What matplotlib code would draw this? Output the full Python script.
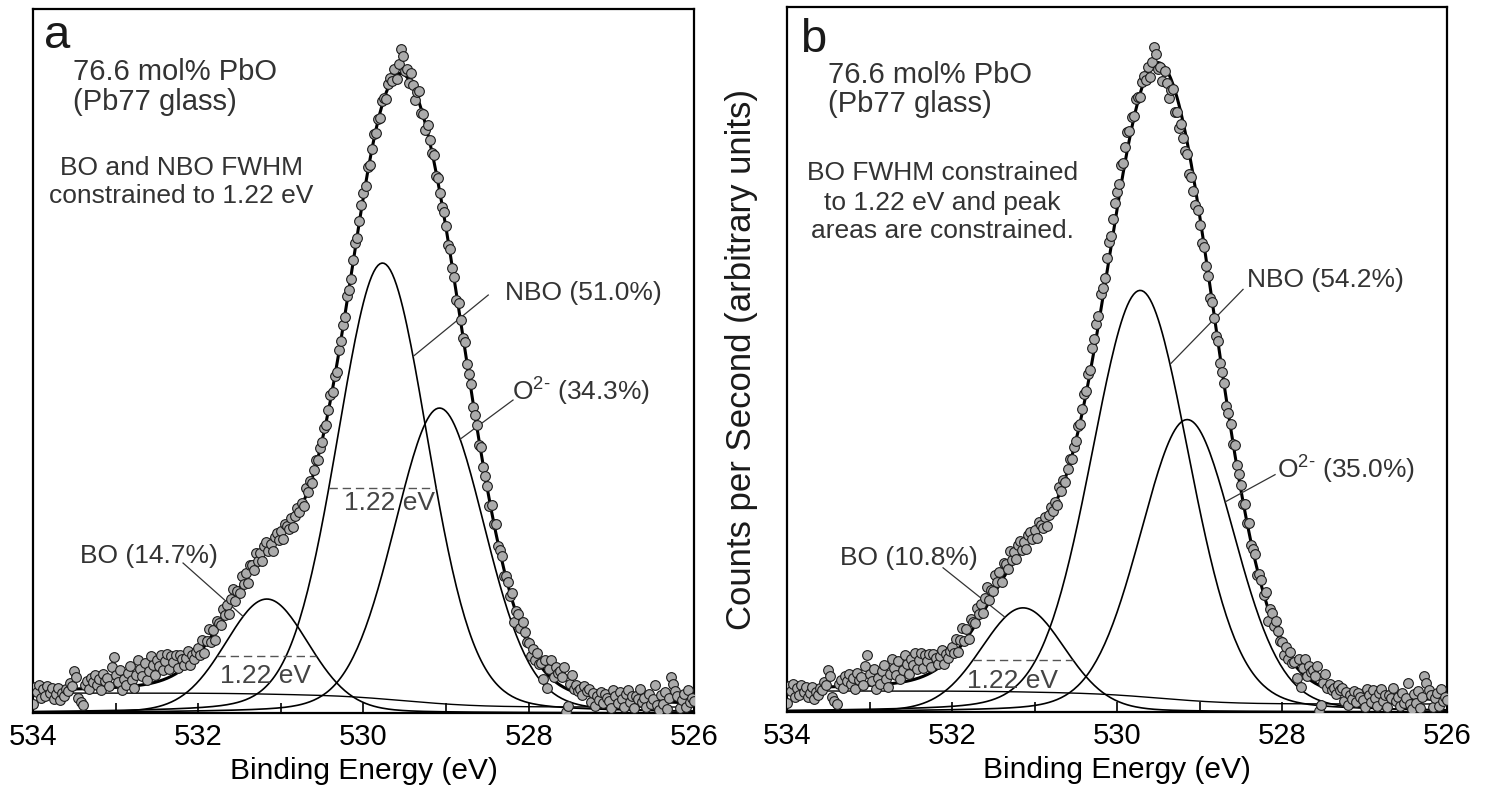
import numpy as np
import matplotlib.pyplot as plt

plt.rcParams['font.family'] = ['Liberation Sans', 'DejaVu Sans']
plt.rcParams['mathtext.fontset'] = 'custom'
plt.rcParams['mathtext.rm'] = 'Liberation Sans'

# O 1s scan, binding energy (eV), 0.025 eV steps from 534 down to 526
energy = np.linspace(534.0, 526.0, 321)

counts_minus_fit = [
    -14, 3, -2, 5, -8, 1, -6, 4, -3, 2, -9, -5, 1, -11, -4, -7, 0, -2, 6, 3,
    18, 12, -9, -13, -16, 4, 8, 0, 11, 6, 13, 3, 9, -2, 14, 7, 10, 2, 21, 31,
    12, 5, 17, -3, 8, 2, 14, 20, 6, -2, 11, 25, 16, 9, 22, 4, 13, 27, 18, 7,
    22, 15, 26, 10, 18, 24, 8, 20, 13, 19, 5, 16, 11, 3, 9, 14, -2, 6, 0, 4,
    6, -3, 9, -7, 2, 11, -5, 4, -9, 7, 1, -4, 8, -2, 5, -8, 3, 10, -6, 0,
    -5, 8, -3, 4, -9, 6, 2, -6, 9, -2, 3, -7, 5, 7, -4, 1, -8, 4, 6, -3,
    4, -6, 7, 2, -3, 5, -7, 1, 6, -2, 3, -5, 8, -1, 4, -4, 2, 5, -3, 1,
    -2, 3, -4, 1, 5, -3, 2, -6, 4, 0, 3, -2, 6, -1, -4, 2, 5, -3, 1, 4,
    3, -2, 5, -4, 1, 6, -3, 2, -5, 4, 0, -6, 3, 5, -2, 8, -4, 10, 24, 18,
    4, 8, -3, 10, 2, -8, 5, 12, -4, 3, -6, 7, 1, -2, 5, -5, 3, 0, -3, 4,
    2, -4, 5, -1, 3, -6, 4, 1, -3, 6, -2, 2, 5, -5, 1, 3, -4, 7, -1, 2,
    3, -5, 6, -2, 8, -4, 1, 5, -7, 2, 4, -3, 7, -15, 3, 6, -2, 9, 4, -1,
    2, -6, 5, -3, 8, 0, 4, -10, 12, -14, 7, 18, 3, 15, 10, 14, 9, 20, -24, -17,
    6, 16, 3, 8, 2, 5, -1, 9, 4, 7, -6, 3, -9, 1, -3, 6, -5, 4, 0, -2,
    -9, 9, 3, -4, 8, 1, -7, 6, 10, -2, 4, -8, 5, 2, 12, -1, 3, -6, 7, -3,
    2, 17, -3, -8, 7, -2, 10, -7, 4, 25, 18, 11, 6, -6, 3, 9, -4, 13, 1, 5,
    2,
]

# fitted components, order: BO, NBO, O2-
centre_a = [531.17, 529.77, 529.08]
height_a = [114, 450, 305]
fwhm_a = [1.20, 1.30, 1.30]
shirley_a = [20, 6]      # background level at 534 eV and at 526 eV
labels_a = ['BO (14.7%)', 'NBO (51.0%)', r'O$^{2\text{-}}$ (34.3%)']

centre_b = [531.14, 529.72, 529.15]
height_b = [104, 421, 292]
fwhm_b = [1.21, 1.40, 1.35]
shirley_b = [21, 8]
labels_b = ['BO (10.8%)', 'NBO (54.2%)', r'O$^{2\text{-}}$ (35.0%)']

lorentz_frac = 0.15


def gl(x, c, h, w):
    u = 4 * ((x - c) / w) ** 2
    return h * ((1 - lorentz_frac) * np.exp(-np.log(2) * u) + lorentz_frac / (1 + u))


def fit_curves(centre, height, fwhm, shirley):
    comps = [gl(energy, c, h, w) for c, h, w in zip(centre, height, fwhm)]
    total = np.sum(comps, axis=0)
    cum = np.cumsum(total[::-1])[::-1]
    bg = shirley[1] + (shirley[0] - shirley[1]) * cum / cum[0]
    return comps, bg, total + bg


comps_a, bg_a, env_a = fit_curves(centre_a, height_a, fwhm_a, shirley_a)
comps_b, bg_b, env_b = fit_curves(centre_b, height_b, fwhm_b, shirley_b)
counts = env_a + np.array(counts_minus_fit)

fig = plt.figure(figsize=(14.94, 7.92), dpi=100)
ax_a = fig.add_axes([0.0221, 0.0997, 0.4424, 0.8889])
ax_b = fig.add_axes([0.5268, 0.1010, 0.4418, 0.8902])

txt = '#333333'


def draw_panel(ax, comps, bg, env, centre, height, fwhm, dashed):
    for comp in comps:
        ax.plot(energy, comp, color='k', lw=1.2)
    ax.plot(energy, bg, color='k', lw=1.0)
    ax.plot(energy, env, color='k', lw=2.2)
    ax.plot(energy, counts, 'o', ms=7, mfc='#ababab', mec='#1a1a1a', mew=0.8, zorder=3)
    for i in dashed:
        c, h, w = centre[i], height[i], fwhm[i]
        ax.plot([c + w / 2, c - w / 2], [h / 2, h / 2], color='#555555', lw=1.0,
                dashes=(6, 3.5))
    ax.set_xlim(534, 526)
    ax.set_ylim(0, 704)
    ticks = np.arange(526, 535)
    ax.set_xticks(ticks)
    ax.set_xticklabels([str(t) if t % 2 == 0 else '' for t in ticks])
    ax.tick_params(axis='x', direction='in', length=7, width=1.2, labelsize=21, pad=7)
    ax.set_yticks([])
    for s in ax.spines.values():
        s.set_linewidth(1.6)
    ax.set_xlabel('Binding Energy (eV)', fontsize=21.5)
    ax.xaxis.set_label_coords(0.5, -0.062)


def leader(ax, start, comp_centre, comp_h, comp_w, e_end):
    ax.plot([start[0], e_end], [start[1], gl(e_end, comp_centre, comp_h, comp_w)],
            color='#333333', lw=0.9)


draw_panel(ax_a, comps_a, bg_a, env_a, centre_a, height_a, fwhm_a, [0, 1])
draw_panel(ax_b, comps_b, bg_b, env_b, centre_b, height_b, fwhm_b, [0])

# panel a text
ta = ax_a.transAxes
ax_a.text(0.0166, 0.9446, 'a', transform=ta, fontsize=34, va='baseline', color='#1a1a1a')
ax_a.text(0.0605, 0.899, '76.6 mol% PbO', transform=ta, fontsize=21, va='baseline', color=txt)
ax_a.text(0.0605, 0.8565, '(Pb77 glass)', transform=ta, fontsize=21, va='baseline', color=txt)
ax_a.text(0.224, 0.764, 'BO and NBO FWHM', transform=ta, fontsize=19, ha='center', va='baseline', color=txt)
ax_a.text(0.224, 0.7244, 'constrained to 1.22 eV', transform=ta, fontsize=19, ha='center', va='baseline', color=txt)
ax_a.text(0.0711, 0.213, labels_a[0], transform=ta, fontsize=19, va='baseline', color=txt)
ax_a.text(0.714, 0.5866, labels_a[1], transform=ta, fontsize=19, va='baseline', color=txt)
ax_a.text(0.7247, 0.4446, labels_a[2], transform=ta, fontsize=19, va='baseline', color=txt)
ax_a.text(0.351, 0.0426, '1.22 eV', transform=ta, fontsize=19, ha='center', va='baseline', color='#444444')
ax_a.text(0.5386, 0.288, '1.22 eV', transform=ta, fontsize=19, ha='center', va='baseline', color='#444444')
leader(ax_a, (532.184, 150), centre_a[0], height_a[0], fwhm_a[0], 531.457)
leader(ax_a, (528.49, 418), centre_a[1], height_a[1], fwhm_a[1], 529.40)
leader(ax_a, (528.19, 313), centre_a[2], height_a[2], fwhm_a[2], 528.83)

# panel b text
tb = ax_b.transAxes
ax_b.text(0.0197, 0.936, 'b', transform=tb, fontsize=34, va='baseline', color='#1a1a1a')
ax_b.text(0.0621, 0.892, '76.6 mol% PbO', transform=tb, fontsize=21, va='baseline', color=txt)
ax_b.text(0.0621, 0.851, '(Pb77 glass)', transform=tb, fontsize=21, va='baseline', color=txt)
ax_b.text(0.235, 0.7546, 'BO FWHM constrained', transform=tb, fontsize=19, ha='center', va='baseline', color=txt)
ax_b.text(0.235, 0.712, 'to 1.22 eV and peak', transform=tb, fontsize=19, ha='center', va='baseline', color=txt)
ax_b.text(0.235, 0.672, 'areas are constrained.', transform=tb, fontsize=19, ha='center', va='baseline', color=txt)
ax_b.text(0.0803, 0.2085, labels_b[0], transform=tb, fontsize=19, va='baseline', color=txt)
ax_b.text(0.697, 0.603, labels_b[1], transform=tb, fontsize=19, va='baseline', color=txt)
ax_b.text(0.742, 0.332, labels_b[2], transform=tb, fontsize=19, va='baseline', color=txt)
ax_b.text(0.341, 0.034, '1.22 eV', transform=tb, fontsize=19, ha='center', va='baseline', color='#444444')
leader(ax_b, (532.109, 144), centre_b[0], height_b[0], fwhm_b[0], 531.358)
leader(ax_b, (528.473, 422), centre_b[1], height_b[1], fwhm_b[1], 529.358)
leader(ax_b, (528.085, 237), centre_b[2], height_b[2], fwhm_b[2], 528.69)

fig.text(742 / 1494, 1 - 359 / 792, 'Counts per Second (arbitrary units)', rotation=90,
         ha='center', va='center', fontsize=25, color='#1a1a1a')

fig.savefig('out.png', dpi=100)
